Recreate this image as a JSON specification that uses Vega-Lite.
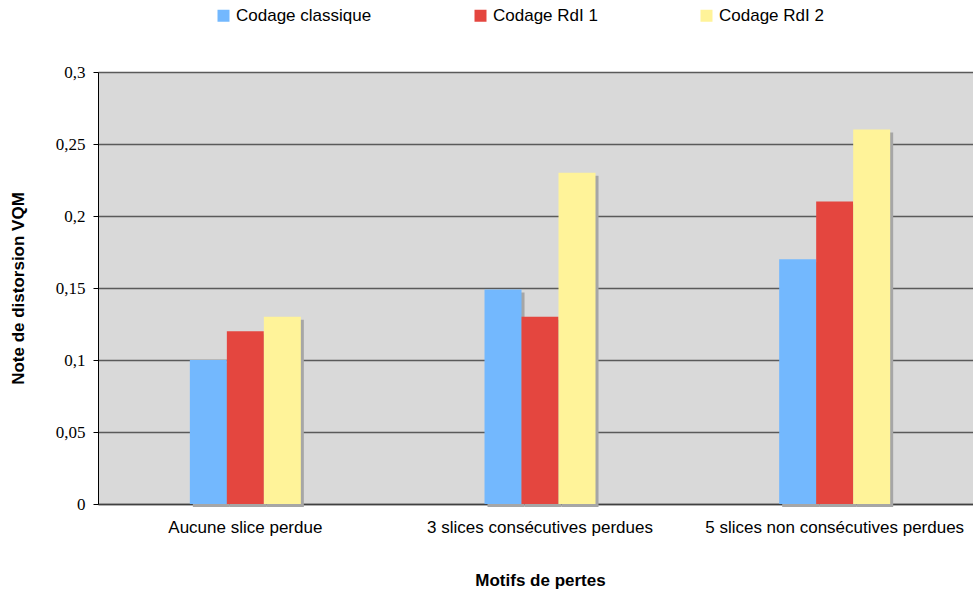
{
  "$schema": "https://vega.github.io/schema/vega-lite/v6.json",
  "autosize": {"type": "none"},
  "padding": {"left": 98, "top": 72, "right": 0, "bottom": 91},
  "width": 884,
  "height": 432,
  "background": "white",
  "config": {
    "view": {"fill": "#D9D9D9", "stroke": null},
    "font": "Liberation Sans"
  },
  "data": {
    "values": [
      {"motif": "Aucune slice perdue", "serie": "Codage classique", "note": 0.100},
      {"motif": "Aucune slice perdue", "serie": "Codage RdI 1", "note": 0.120},
      {"motif": "Aucune slice perdue", "serie": "Codage RdI 2", "note": 0.130},
      {"motif": "3 slices consécutives perdues", "serie": "Codage classique", "note": 0.149},
      {"motif": "3 slices consécutives perdues", "serie": "Codage RdI 1", "note": 0.130},
      {"motif": "3 slices consécutives perdues", "serie": "Codage RdI 2", "note": 0.230},
      {"motif": "5 slices non consécutives perdues", "serie": "Codage classique", "note": 0.170},
      {"motif": "5 slices non consécutives perdues", "serie": "Codage RdI 1", "note": 0.210},
      {"motif": "5 slices non consécutives perdues", "serie": "Codage RdI 2", "note": 0.260}
    ]
  },
  "encoding": {
    "x": {
      "field": "motif",
      "type": "nominal",
      "sort": null,
      "scale": {"paddingInner": 0.6234, "paddingOuter": 0.3117},
      "axis": {
        "title": "Motifs de pertes",
        "titleFont": "Liberation Sans",
        "titleFontSize": 17,
        "titleFontWeight": "bold",
        "titleColor": "black",
        "titlePadding": 37,
        "labelFont": "Liberation Sans",
        "labelFontSize": 17,
        "labelColor": "black",
        "labelAngle": 0,
        "labelPadding": 15,
        "labelLimit": 0,
        "labelOverlap": false,
        "ticks": false,
        "tickSize": 0,
        "domainColor": "#404040",
        "domainWidth": 1.5
      }
    },
    "y": {
      "field": "note",
      "type": "quantitative",
      "scale": {"domain": [0, 0.3], "nice": false},
      "axis": {
        "title": "Note de distorsion VQM",
        "titleFont": "Liberation Sans",
        "titleFontSize": 17,
        "titleFontWeight": "bold",
        "titleColor": "black",
        "titlePadding": 28,
        "values": [0, 0.05, 0.1, 0.15, 0.2, 0.25, 0.3],
        "labelExpr": "replace(format(datum.value, '.2~f'), '.', ',')",
        "labelFont": "Liberation Serif",
        "labelFontSize": 17,
        "labelColor": "black",
        "labelPadding": 8,
        "tickSize": 5,
        "tickColor": "black",
        "domainColor": "black",
        "grid": true,
        "gridColor": "#5A5A5A",
        "gridWidth": 1.5
      }
    }
  },
  "layer": [
    {
      "mark": {"type": "bar", "color": "#A6A6A6", "yOffset": 3, "y2Offset": -3},
      "encoding": {
        "xOffset": {
          "field": "serie",
          "type": "nominal",
          "sort": ["Codage classique", "Codage RdI 1", "Codage RdI 2"],
          "scale": {"range": [3, 114]}
        }
      }
    },
    {
      "mark": {"type": "bar"},
      "encoding": {
        "xOffset": {
          "field": "serie",
          "type": "nominal",
          "sort": ["Codage classique", "Codage RdI 1", "Codage RdI 2"],
          "scale": {"range": [0, 111]}
        },
        "color": {
          "field": "serie",
          "type": "nominal",
          "sort": ["Codage classique", "Codage RdI 1", "Codage RdI 2"],
          "scale": {"domain": ["Codage classique", "Codage RdI 1", "Codage RdI 2"], "range": ["#73B8FE", "#E4463F", "#FFF399"]},
          "legend": {
            "title": null,
            "orient": "none",
            "direction": "horizontal",
            "legendX": 117,
            "legendY": -65,
            "symbolType": "square",
            "symbolSize": 144,
            "symbolStrokeWidth": 0,
            "symbolOpacity": 1,
            "labelFont": "Liberation Sans",
            "labelFontSize": 17,
            "labelColor": "black",
            "labelOffset": 4,
            "columnPadding": 100
          }
        }
      }
    }
  ],
  "resolve": {"scale": {"xOffset": "independent"}}
}
